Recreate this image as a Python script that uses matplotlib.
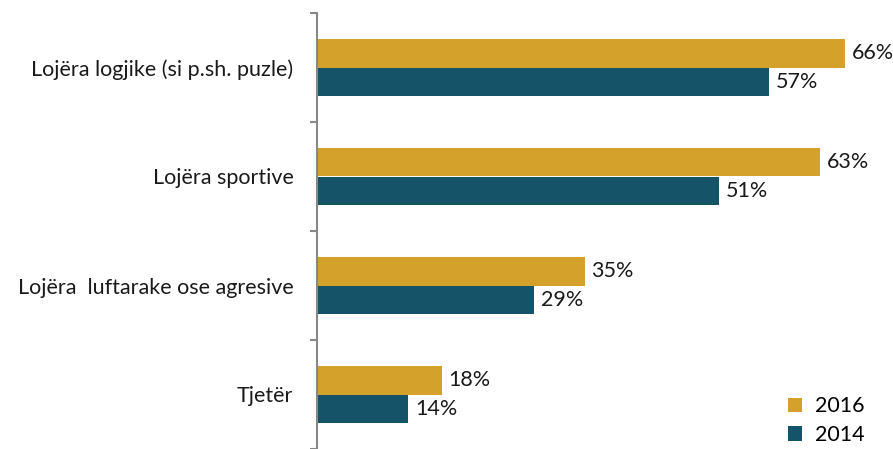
import matplotlib
matplotlib.use("Agg")
import matplotlib.pyplot as plt
import numpy as np

categories = ["Lojëra logjike (si p.sh. puzle)", "Lojëra sportive",
              "Lojëra  luftarake ose agresive", "Tjetër"]
vals_2016 = [66, 63, 35, 18]
vals_2014 = [57, 51, 29, 14]

gold = "#D4A22A"
teal = "#145368"
plt.rcParams["font.family"] = ["Lato", "DejaVu Sans"]

fig = plt.figure(figsize=(8.93, 4.49), dpi=100)
ax = fig.add_axes([317 / 893, 0, 1 - 317 / 893, (449 - 13) / 449])

y = np.arange(len(categories))
h = 0.26
x0 = 3.15
ax.barh(y - h / 2, np.array(vals_2016) - x0, height=h, left=x0, color=gold, label="2016")
ax.barh(y + h / 2, np.array(vals_2014) - x0, height=h, left=x0, color=teal, label="2014")

for i in range(len(categories)):
    ax.text(vals_2016[i] + 0.8, y[i] - h / 2, f"{vals_2016[i]}%", va="center", ha="left",
            fontsize=15.5, color="#1a1a1a")
    ax.text(vals_2014[i] + 0.8, y[i] + h / 2, f"{vals_2014[i]}%", va="center", ha="left",
            fontsize=15.5, color="#1a1a1a")

ax.set_xlim(x0, x0 + (893 - 317) / 8.4)
ax.set_ylim(len(categories) - 0.5, -0.5)

ax.set_yticks(y)
ax.set_yticklabels(categories, fontsize=15.5, color="#1a1a1a")
ax.tick_params(axis="y", which="major", length=0, pad=17)
ax.set_yticks(np.arange(-0.5, len(categories), 1), minor=True)
ax.tick_params(axis="y", which="minor", length=5, width=1.5, color="#888888")
ax.set_xticks([])

for s in ["top", "right", "bottom"]:
    ax.spines[s].set_visible(False)
ax.spines["left"].set_color("#888888")
ax.spines["left"].set_linewidth(1.5)

ax.legend(loc="lower right", bbox_to_anchor=(0.985, -0.035), frameon=False, fontsize=15.5,
          handlelength=0.65, handleheight=0.65, handletextpad=0.6, labelspacing=0.4)

fig.savefig("out.png", dpi=100)
